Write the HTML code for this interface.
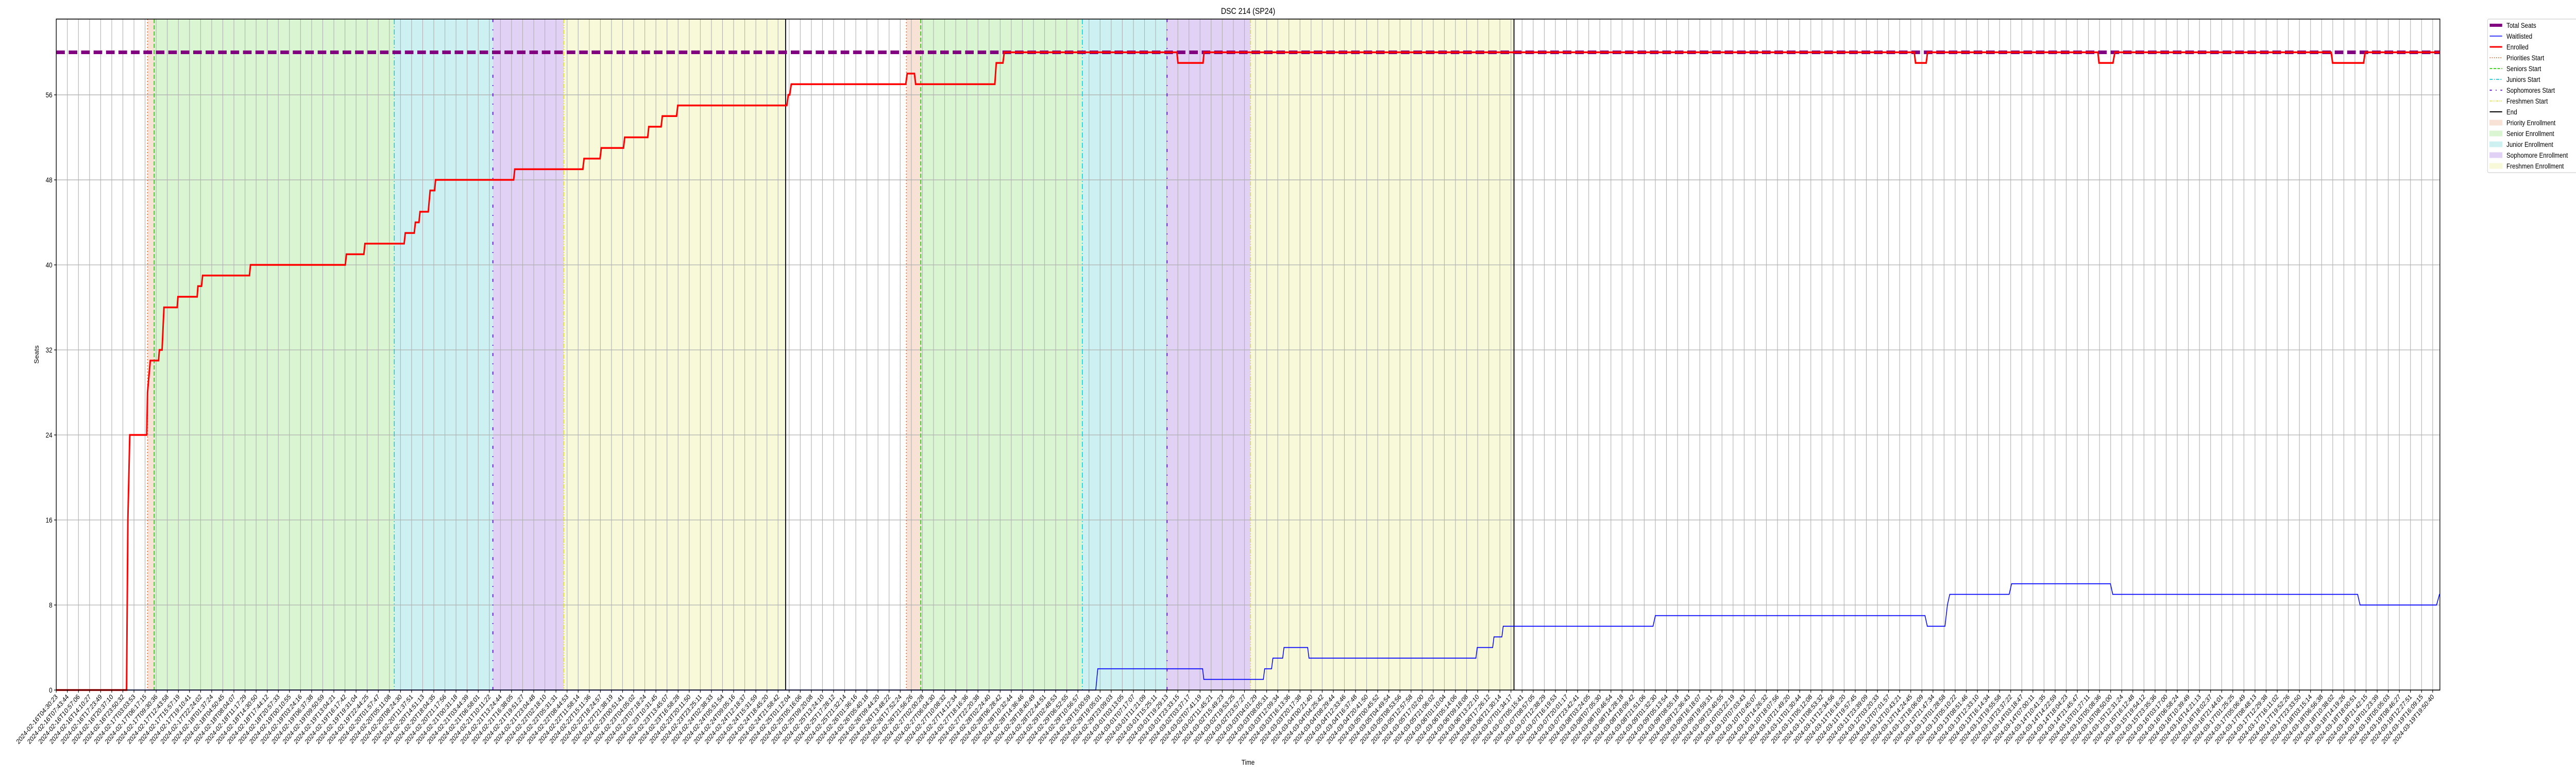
<!DOCTYPE html>
<html><head><meta charset="utf-8">
<style>
html,body{margin:0;padding:0;background:#fff;overflow:hidden;width:100%;height:100%;}
svg{display:block;width:100vw;height:100vh;font-family:"Liberation Sans","DejaVu Sans",sans-serif;}
</style></head>
<body>
<svg id="chart" viewBox="0 0 6000 1500" preserveAspectRatio="none" xmlns="http://www.w3.org/2000/svg">
<rect x="0" y="0" width="6000" height="1500" fill="#fff"/>
<g id="spans"></g>
<g id="grid"></g>
<g id="vlines"></g>
<g id="series"></g>
<rect x="131" y="37" width="5552" height="1302" fill="none" stroke="#000" stroke-width="1.6"/>
<g id="axes"></g>
<text x="2907" y="27" font-size="17" text-anchor="middle">DSC 214 (SP24)</text>
<text x="0" y="0" font-size="14" text-anchor="middle" transform="translate(90,688) rotate(-90)">Seats</text>
<text x="2907" y="1484" font-size="14" text-anchor="middle">Time</text>
<g id="legend"></g>
</svg>
<script>
// ---- data ----
const enrolledX = [0,6.33,6.45,6.62,8.15,8.22,8.30,8.47,9.21,9.29,9.53,9.70,10.89,10.96,12.69,12.76,13.08,13.18,17.40,17.49,26.03,26.13,27.70,27.80,31.33,31.43,32.24,32.34,32.66,32.76,33.50,33.67,34.07,34.16,41.19,41.29,47.42,47.53,48.97,49.08,51.08,51.19,53.26,53.36,54.47,54.58,55.86,55.97,65.79,65.92,66.05,66.19,76.5,76.63,77.28,77.39,84.52,84.65,85.25,85.37,100.92,101.01,103.27,103.36,167.32,167.43,168.39,168.51,183.85,183.95,185.21,185.38,204.86,204.99,207.78,207.91,214.65];
const enrolledY = [0,0,16,24,24,28,29,31,31,32,32,36,36,37,37,38,38,39,39,40,40,41,41,42,42,43,43,44,44,45,45,47,47,48,48,49,49,50,50,51,51,52,52,53,53,54,54,55,55,56,56,57,57,58,58,57,57,59,59,60,60,59,59,60,60,59,59,60,60,59,59,60,60,59,59,60,60];
const waitX = [0,93.61,93.79,103.23,103.34,108.70,108.82,109.44,109.56,110.44,110.56,112.69,112.81,127.84,127.96,129.35,129.47,130.18,130.30,143.79,144.0,168.28,168.49,170.08,170.3,170.51,175.86,176.08,184.98,185.19,207.24,207.46,214.35,214.61,214.65];
const waitY = [0,0,2,2,1,1,2,2,3,3,4,4,3,3,4,4,5,5,6,6,7,7,6,6,8,9,9,10,10,9,9,8,8,9,9];
const totalSeats = 60;
const yTicks = [0,8,16,24,32,40,48,56];
const phaseNames = ["Priorities Start","Seniors Start","Juniors Start","Sophomores Start","Freshmen Start","End"];
const period1 = [8.22,8.82,30.44,39.32,45.71,65.68];
const period2 = [76.56,77.85,92.4,100.03,107.55,131.27];
const tickAnchorIdx = [0,66,131,214];
const tickAnchorTime = ["2024-02-16T04:30:23","2024-02-25T01:12:04","2024-03-07T01:34:17","2024-03-19T19:50:40"];
const tickCount = 215;

// ---- scales ----
const PX0=131, PX1=5683, PY0=37, PY1=1339, XMAX=214.65, YMAX=63.13;
const X = u => PX0 + u/XMAX*(PX1-PX0);
const Y = v => PY1 - v/YMAX*(PY1-PY0);
const NS="http://www.w3.org/2000/svg";
function mk(tag, attrs, parent){const e=document.createElementNS(NS,tag);for(const k in attrs)e.setAttribute(k,attrs[k]);parent.appendChild(e);return e;}

const spans=document.getElementById('spans'), grid=document.getElementById('grid'), vl=document.getElementById('vlines'), ser=document.getElementById('series'), axes=document.getElementById('axes'), leg=document.getElementById('legend');

const spanColors=["#f8e1d5","#d9f5d2","#cdf1f2","#e1d2f5","#f7f9d8"];
const spanNames=["priority-enrollment-span","senior-enrollment-span","junior-enrollment-span","sophomore-enrollment-span","freshmen-enrollment-span"];
[period1,period2].forEach((p,pi)=>{
  for(let i=0;i<5;i++){
    const r=mk('rect',{x:X(p[i]),y:PY0,width:X(p[i+1])-X(p[i]),height:PY1-PY0,fill:spanColors[i]},spans);
    
    
  }
});

function fmt(d){const z=n=>String(n).padStart(2,'0');return d.getUTCFullYear()+"-"+z(d.getUTCMonth()+1)+"-"+z(d.getUTCDate())+"T"+z(d.getUTCHours())+":"+z(d.getUTCMinutes())+":"+z(d.getUTCSeconds());}
const anchorMs=tickAnchorTime.map(s=>Date.parse(s+"Z"));
function tickLabel(i){
  let k=0; while(k<tickAnchorIdx.length-2 && i>tickAnchorIdx[k+1]) k++;
  const f=(i-tickAnchorIdx[k])/(tickAnchorIdx[k+1]-tickAnchorIdx[k]);
  return fmt(new Date(anchorMs[k]+f*(anchorMs[k+1]-anchorMs[k])));
}
for(let i=0;i<tickCount;i++){
  const x=X(i);
  const g=mk('line',{x1:x,x2:x,y1:PY0,y2:PY1,stroke:"#b0b0b0","stroke-width":1.3},grid);
  
  
  const t=mk('line',{x1:x,x2:x,y1:PY1,y2:PY1+5,stroke:"#000","stroke-width":1.3},axes);
  
  
  const lb=mk('text',{x:0,y:0,"font-size":13.5,"text-anchor":"end",transform:`translate(${x+4},${PY1+14}) rotate(-45)`},axes);
  lb.textContent=tickLabel(i);
  
  
}
yTicks.forEach(v=>{
  const y=Y(v);
  const g=mk('line',{x1:PX0,x2:PX1,y1:y,y2:y,stroke:"#b0b0b0","stroke-width":1.3},grid);
  
  
  const t=mk('line',{x1:PX0-5,x2:PX0,y1:y,y2:y,stroke:"#000","stroke-width":1.3},axes);
  
  
  const lb=mk('text',{x:PX0-9,y:y+5,"font-size":14,"text-anchor":"end"},axes);
  lb.textContent=String(v);
  
  
});

const lineStyles=[
 {stroke:"#e8662a",w:2,dash:"2,4"},
 {stroke:"#33cc11",w:2.2,dash:"8,4"},
 {stroke:"#11c9d6",w:1.8,dash:"10,4,2,4"},
 {stroke:"#6a22d6",w:2.4,dash:"6,14,2,14"},
 {stroke:"#dede33",w:1.8,dash:"8,3,2,3,2,3"},
 {stroke:"#000",w:2.2,dash:""}
];
const lineNames=["priorities-start-line","seniors-start-line","juniors-start-line","sophomores-start-line","freshmen-start-line","end-line"];
[period1,period2].forEach(p=>{
  p.forEach((u,i)=>{
    const s=lineStyles[i];
    const l=mk('line',{x1:X(u),x2:X(u),y1:PY0,y2:PY1,stroke:s.stroke,"stroke-width":s.w,"stroke-dasharray":s.dash},vl);
    
    
  });
});

const ts=mk('line',{x1:PX0,x2:PX1,y1:Y(totalSeats),y2:Y(totalSeats),stroke:"#800080","stroke-width":7,"stroke-dasharray":"20,9"},ser);


const wl=mk('polyline',{points:waitX.map((u,i)=>X(u)+","+Y(waitY[i])).join(" "),fill:"none",stroke:"#0000ff","stroke-width":1.8},ser);


const el=mk('polyline',{points:enrolledX.map((u,i)=>X(u)+","+Y(enrolledY[i])).join(" "),fill:"none",stroke:"#ff0000","stroke-width":3.5},ser);



const lb0=mk('rect',{x:5794,y:37,width:210,height:298,rx:3,fill:"#fff",stroke:"#d0d0d0","stroke-width":1.2},leg);


const legItems=[
 ["Total Seats","line","#800080",6,""],
 ["Waitlisted","line","#0000ff",1.5,""],
 ["Enrolled","line","#ff0000",3,""],
 ["Priorities Start","line","#e8662a",1.8,"2,3"],
 ["Seniors Start","line","#33cc11",1.8,"6,3"],
 ["Juniors Start","line","#11c9d6",1.8,"7,3,2,3"],
 ["Sophomores Start","line","#6a22d6",2,"5,9,2,9"],
 ["Freshmen Start","line","#dede33",1.6,"5,2,2,2,2,2"],
 ["End","line","#000",2,""],
 ["Priority Enrollment","patch","#f8e1d5"],
 ["Senior Enrollment","patch","#d9f5d2"],
 ["Junior Enrollment","patch","#cdf1f2"],
 ["Sophomore Enrollment","patch","#e1d2f5"],
 ["Freshmen Enrollment","patch","#f7f9d8"]
];
legItems.forEach((it,i)=>{
  const y=49+i*21;
  let h;
  if(it[1]==="line"){
    h=mk('line',{x1:5799,x2:5828,y1:y,y2:y,stroke:it[2],"stroke-width":it[3],"stroke-dasharray":it[4]},leg);
  } else {
    h=mk('rect',{x:5799,y:y-5,width:29,height:10,fill:it[2],stroke:it[2]},leg);
  }
  
  
  const t=mk('text',{x:5838,y:y+5,"font-size":14},leg);
  t.textContent=it[0];
  
  
});
</script>
</body></html>
